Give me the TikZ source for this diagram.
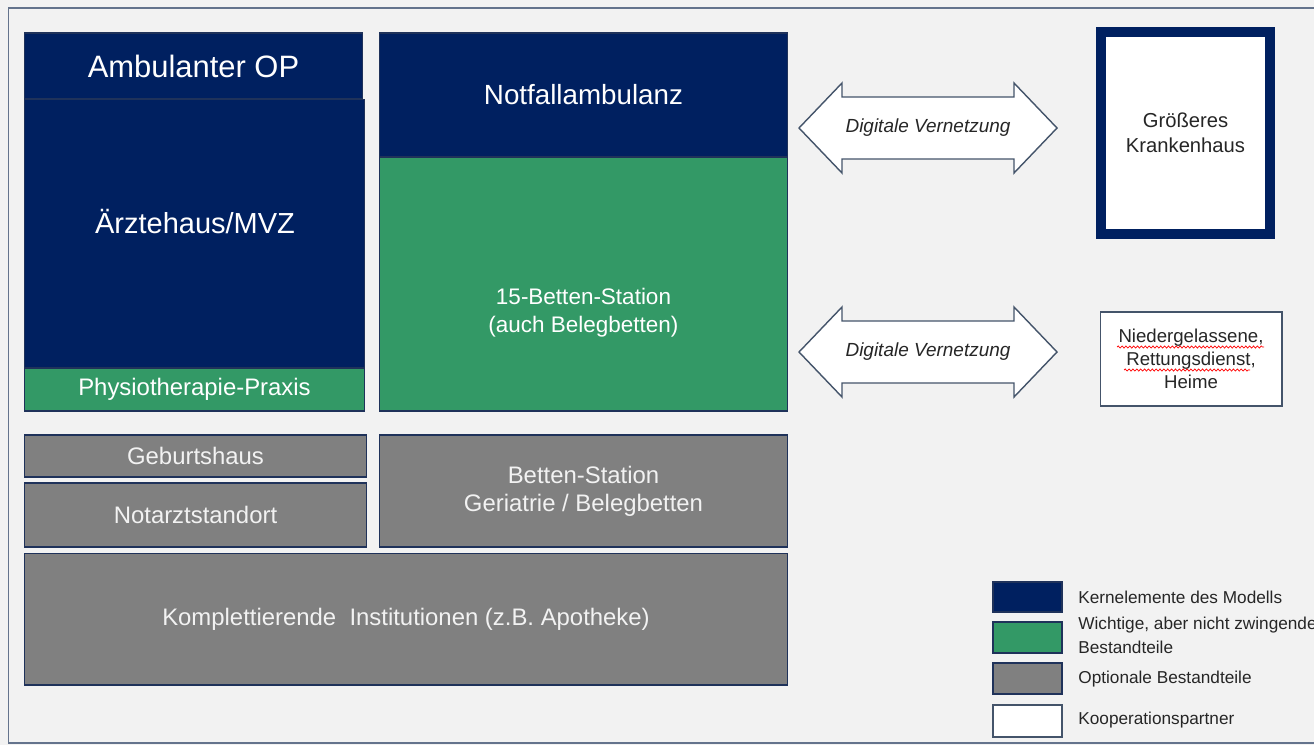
\documentclass[tikz,border=0pt]{standalone}
\usepackage{fontspec}
\setmainfont{Liberation Sans}
\usetikzlibrary{decorations.pathmorphing}
\definecolor{kernblau}{RGB}{0,32,96}
\definecolor{gruen}{RGB}{51,153,102}
\definecolor{grau}{RGB}{128,128,128}
\definecolor{hinter}{RGB}{242,242,242}
\definecolor{rand}{RGB}{31,50,90}
\definecolor{rahmen}{RGB}{100,115,140}
\definecolor{pfeilrand}{RGB}{68,84,106}
\definecolor{schrift}{RGB}{38,38,38}
\tikzset{
  block/.style={draw=rand, line width=0.6pt, inner sep=0pt, align=center, text=white},
  kernbox/.style={block, fill=kernblau},
  wichtigbox/.style={block, fill=gruen},
  optbox/.style={block, fill=grau, text=hinter, font=\fontsize{13.6}{15.9}\selectfont},
  partnerbox/.style={block, fill=white, text=schrift},
  boxtext/.style={inner sep=0pt, align=center, text=white},
  legtext/.style={anchor=west, inner sep=0pt, align=left, text=schrift, font=\fontsize{9.8}{13.6}\selectfont},
}
\begin{document}
\begin{tikzpicture}[x=0.02cm, y=-0.02cm]
	\useasboundingbox (0,0) rectangle (1314,745);
	\fill[hinter] (0,0) rectangle (1314,745);
	\draw[rahmen, line width=1.1pt] (1320,8) -- (8.5,8) -- (8.5,743) -- (1320,743);
	% Kernelemente und wichtige Bestandteile
	\node[kernbox, minimum width=6.78cm, minimum height=1.32cm, font=\fontsize{17.6}{21}\selectfont] (op) at (193.5,66) {Ambulanter OP};
	\node[kernbox, minimum width=6.82cm, minimum height=5.38cm] (mvz) at (194.5,233.5) {};
	\node[boxtext, font=\fontsize{16.5}{20}\selectfont] (mvztext) at (195,222) {Ärztehaus/MVZ};
	\node[wichtigbox, minimum width=6.82cm, minimum height=0.86cm, font=\fontsize{13.6}{16}\selectfont] (physio) at (194.5,389.5) {Physiotherapie-Praxis};
	\node[kernbox, minimum width=8.18cm, minimum height=2.48cm, font=\fontsize{15.8}{19}\selectfont] (notfall) at (583.5,95) {Notfallambulanz};
	\node[wichtigbox, minimum width=8.18cm, minimum height=5.08cm] (station) at (583.5,284) {};
	\node[boxtext, font=\fontsize{12.8}{15.9}\selectfont] (stationtext) at (583.5,313) {15-Betten-Station\\(auch Belegbetten)};
	% optionale Bestandteile
	\node[optbox, minimum width=6.86cm, minimum height=0.84cm] (geburt) at (195.5,456) {Geburtshaus};
	\node[optbox, minimum width=6.86cm, minimum height=1.28cm] (notarzt) at (195.5,515) {Notarztstandort};
	\node[optbox, minimum width=8.18cm, minimum height=2.24cm] (geriatrie) at (583.5,491) {Betten-Station\\Geriatrie / Belegbetten};
	\node[optbox, minimum width=15.28cm, minimum height=2.64cm] (kompl) at (406,619) {Komplettierende\ \ Institutionen (z.B. Apotheke)};
	% Vernetzung
	\foreach \y/\n in {128/a, 352/b} {
		\draw[pfeilrand, fill=white, line width=0.8pt] (799,\y) -- (842,\y-45) -- (842,\y-31) -- (1014,\y-31) -- (1014,\y-45)
			-- (1057,\y) -- (1014,\y+45) -- (1014,\y+31) -- (842,\y+31) -- (842,\y+45) -- cycle;
		\node[inner sep=0pt, text=schrift, font=\fontsize{10.8}{13}\selectfont\itshape] (netz\n) at (928,\y) {Digitale Vernetzung};
	}
	% Kooperationspartner
	\node[partnerbox, draw=kernblau, line width=5.7pt, minimum width=3.38cm, minimum height=4.04cm, font=\fontsize{11.5}{14.2}\selectfont] (klinik) at (1185.5,133) {Größeres\\Krankenhaus};
	\node[partnerbox, draw=pfeilrand, minimum width=3.64cm, minimum height=1.88cm, font=\fontsize{10.6}{13}\selectfont] (partner) at (1191,359) {Niedergelassene,\\Rettungsdienst,\\Heime};
	\draw[red, line width=0.4pt, decorate, decoration={snake, amplitude=0.6pt, segment length=2.2pt}] (1117,347) -- (1264,347);
	\draw[red, line width=0.4pt, decorate, decoration={snake, amplitude=0.6pt, segment length=2.2pt}] (1124,370) -- (1250,370);
	% Legende
	\node[kernbox, minimum width=1.38cm, minimum height=0.6cm] (legkern) at (1027.5,597) {};
	\node[wichtigbox, minimum width=1.38cm, minimum height=0.62cm] (legwichtig) at (1027.5,637.5) {};
	\node[optbox, minimum width=1.38cm, minimum height=0.62cm] (legopt) at (1027.5,678.5) {};
	\node[partnerbox, draw=pfeilrand, minimum width=1.38cm, minimum height=0.64cm] (legpartner) at (1027.5,721) {};
	\node[legtext] (tkern) at (1078,597) {Kernelemente des Modells};
	\node[legtext] (twichtig) at (1078,635) {Wichtige, aber nicht zwingende\\Bestandteile};
	\node[legtext] (topt) at (1078,679) {Optionale Bestandteile};
	\node[legtext] (tpartner) at (1078,720) {Kooperationspartner};
\end{tikzpicture}
\end{document}
